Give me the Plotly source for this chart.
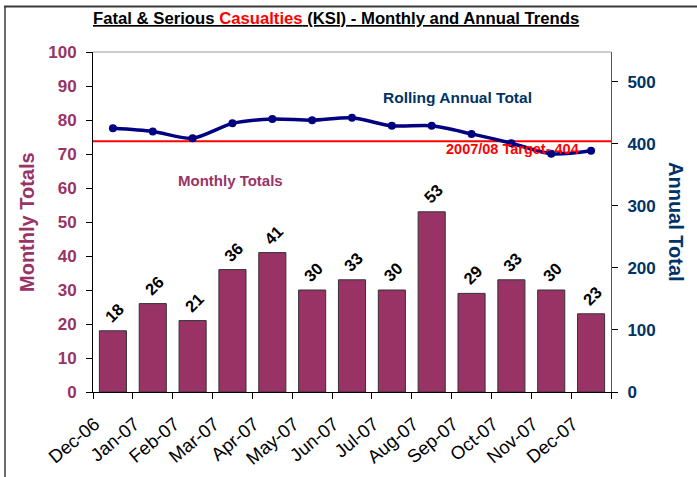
import plotly.graph_objects as go

# Monthly KSI casualties and the rolling 12-month total
months = ["Dec-06", "Jan-07", "Feb-07", "Mar-07", "Apr-07", "May-07", "Jun-07",
          "Jul-07", "Aug-07", "Sep-07", "Oct-07", "Nov-07", "Dec-07"]
monthly_totals = [18, 26, 21, 36, 41, 30, 33, 30, 53, 29, 33, 30, 23]
rolling_annual = [425, 420, 409, 433, 440, 438, 442, 429, 429, 416, 401, 384, 389]
target_value = 404
target_label = "2007/08 Target- 404"

left_ticks = list(range(0, 101, 10))
right_ticks = list(range(0, 501, 100))

W, H = 697, 477
ML, MR, MT, MB = 93, 86, 52, 85
PW, PH = W - ML - MR, H - MT - MB

MAROON = "#993366"
NAVY = "#003366"
LINE_NAVY = "#000080"
FONT = "Liberation Sans, Arial, sans-serif"


def fx(px):
    return (px - ML) / PW


def fy(py):
    return (H - MB - py) / PH


fig = go.Figure()

fig.add_trace(go.Bar(
    x=months, y=monthly_totals,
    marker=dict(color=MAROON, line=dict(color="#333333", width=1)),
    xaxis="x", yaxis="y", showlegend=False, hoverinfo="x+y",
))

fig.add_trace(go.Scatter(
    x=months, y=rolling_annual, mode="lines+markers",
    line=dict(color=LINE_NAVY, width=3.5, shape="spline", smoothing=0.8),
    marker=dict(color=LINE_NAVY, size=8),
    xaxis="x", yaxis="y2", showlegend=False,
))

fig.update_layout(
    width=W, height=H,
    margin=dict(l=ML, r=MR, t=MT, b=MB, pad=0, autoexpand=False),
    paper_bgcolor="white", plot_bgcolor="white",
    font=dict(family=FONT),
    bargap=0.32,
    xaxis=dict(
        type="category", categoryarray=months, range=[-0.5, 12.5],
        tickson="boundaries", ticks="outside", ticklen=6, tickcolor="black",
        showline=True, linecolor="black", linewidth=1,
        tickangle=-40, tickfont=dict(family=FONT, size=18.5, color="black"),
        ticklabelstandoff=13, ticklabelshift=-18, automargin=False,
        showgrid=False, zeroline=False, anchor="y",
    ),
    # overlay axis drawing the inner half of the category boundary ticks
    xaxis2=dict(
        overlaying="x", anchor="y", side="bottom", type="linear",
        range=[-0.5, 12.5], tickmode="array",
        tickvals=[i - 0.5 for i in range(len(months) + 1)],
        ticks="inside", ticklen=5, tickcolor="black",
        showticklabels=False, showline=False, showgrid=False, zeroline=False,
    ),
    yaxis=dict(
        range=[0, 100], tickmode="array", tickvals=left_ticks,
        ticks="outside", ticklen=6, tickcolor="black",
        showline=True, linecolor="black", linewidth=1,
        tickfont=dict(family=FONT, size=17, color=MAROON, weight="bold"),
        ticklabelstandoff=6, automargin=False,
        showgrid=False, zeroline=False, anchor="x",
    ),
    yaxis2=dict(
        overlaying="y", side="right", anchor="x",
        range=[0, 548], tickmode="array", tickvals=right_ticks,
        ticks="outside", ticklen=6, tickcolor="black",
        showline=True, linecolor="#555555", linewidth=1,
        tickfont=dict(family=FONT, size=17, color=NAVY, weight="bold"),
        ticklabelstandoff=6, automargin=False,
        showgrid=False, zeroline=False,
    ),
    # overlay axes drawing the inner half of the value ticks
    yaxis3=dict(
        overlaying="y", side="left", anchor="x",
        range=[0, 100], tickmode="array", tickvals=left_ticks,
        ticks="inside", ticklen=7, tickcolor="black",
        showticklabels=False, showline=False, showgrid=False, zeroline=False,
    ),
    yaxis4=dict(
        overlaying="y", side="right", anchor="x",
        range=[0, 548], tickmode="array", tickvals=right_ticks,
        ticks="inside", ticklen=6, tickcolor="black",
        showticklabels=False, showline=False, showgrid=False, zeroline=False,
    ),
)

shapes = [
    # target line
    dict(type="line", xref="paper", yref="y2", x0=0, x1=1,
         y0=target_value, y1=target_value,
         line=dict(color="red", width=2), layer="below"),
    # plot area top edge
    dict(type="line", xref="paper", yref="paper", x0=0, x1=1, y0=1, y1=1,
         line=dict(color="#9a9a9a", width=1)),
    # outer frame: top and left
    dict(type="line", xref="paper", yref="paper",
         x0=fx(4), x1=fx(W + 2), y0=fy(6.5), y1=fy(6.5),
         line=dict(color="#3a3a3a", width=2)),
    dict(type="line", xref="paper", yref="paper",
         x0=fx(5), x1=fx(5), y0=fy(6), y1=fy(H + 2),
         line=dict(color="#3a3a3a", width=1.5)),
]


def label(px, py, text, size, color, angle=0):
    return dict(xref="paper", yref="paper", x=fx(px), y=fy(py),
                xanchor="center", yanchor="middle", text=text,
                textangle=angle, showarrow=False,
                font=dict(family=FONT, size=size, color=color))


annotations = [
    label(336, 19,
          "<b><u>Fatal & Serious <span style='color:red'>Casualties</span>"
          " (KSI) - Monthly and Annual Trends</u></b>", 16.7, "black"),
    label(27, 222, "<b>Monthly Totals</b>", 20, MAROON, -90),
    label(676, 222, "<b>Annual Total</b>", 20, NAVY, 90),
    label(230, 180, "<b>Monthly Totals</b>", 15, MAROON),
    label(457, 97, "<b>Rolling Annual Total</b>", 15.5, NAVY),
    label(512, 149, "<b>" + target_label + "</b>", 14.5, "red"),
]

# value labels above each bar
for m, v in zip(months, monthly_totals):
    annotations.append(dict(
        x=m, y=v, xref="x", yref="y", text=f"<b>{v}</b>",
        xanchor="center", yanchor="middle",
        textangle=-45, showarrow=False, yshift=18, xshift=1,
        font=dict(family=FONT, size=16.5, color="black"),
    ))

fig.update_layout(shapes=shapes, annotations=annotations)

fig.write_html("out.html")
